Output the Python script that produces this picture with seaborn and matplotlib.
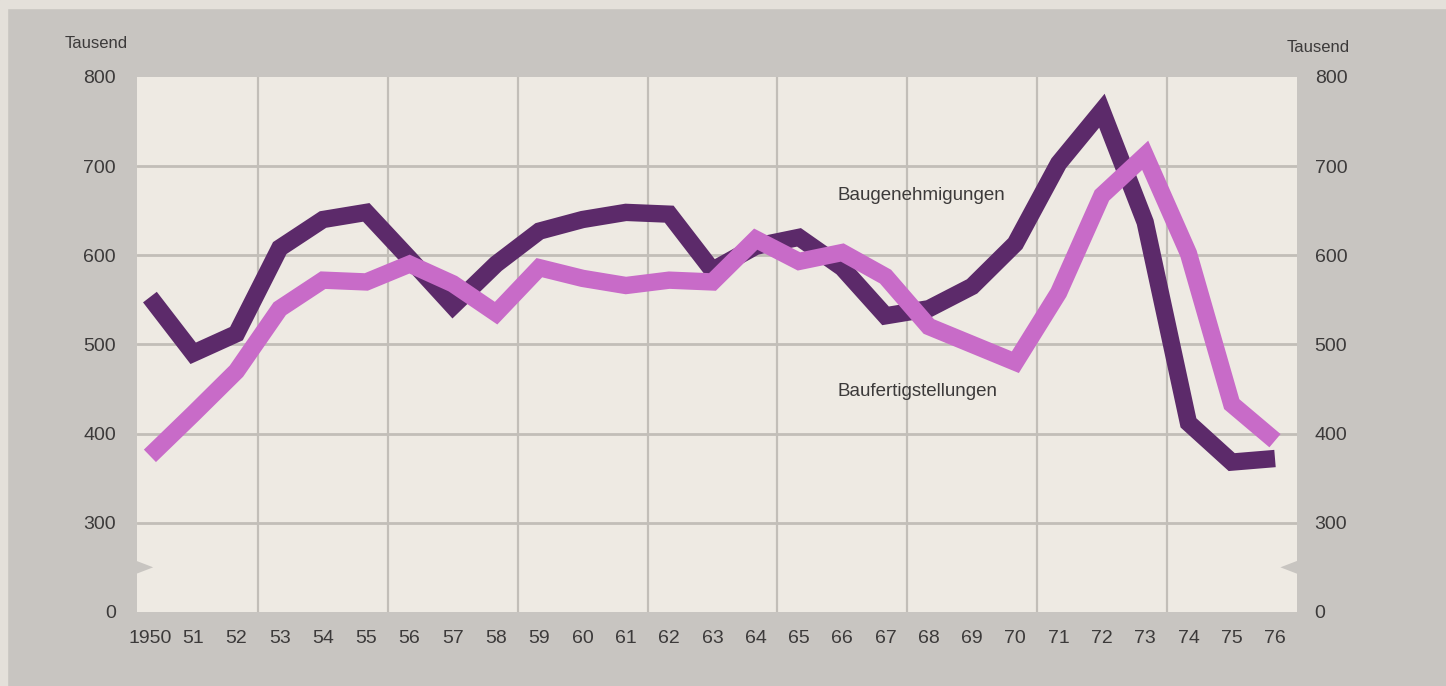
import numpy as np
import pandas as pd
import seaborn as sns
from matplotlib import pyplot as plt
from matplotlib.patches import Polygon, Rectangle
import matplotlib.transforms as mtransforms

# values in Tausend
years = list(range(1950, 1977))
genehmigungen = [553, 490, 512, 608, 640, 648, 596, 543, 590, 627, 640, 648, 646, 583,
                 610, 620, 586, 532, 540, 565, 613, 703, 762, 637, 412, 368, 372]
fertigstellungen = [375, 422, 470, 540, 572, 570, 590, 568, 535, 586, 574, 566, 572, 570,
                    618, 593, 603, 576, 520, 500, 480, 558, 667, 712, 602, 433, 392]
year_labels = ["1950"] + [str(y)[2:] for y in years[1:]]
y_ticks = [200, 300, 400, 500, 600, 700, 800]
y_tick_labels = ["0", "300", "400", "500", "600", "700", "800"]

df = pd.DataFrame({
    "Jahr": years * 2,
    "Wert": genehmigungen + fertigstellungen,
    "Reihe": ["Baugenehmigungen"] * len(years) + ["Baufertigstellungen"] * len(years),
})

sns.set_style("white")
plt.rcParams["font.family"] = ["Liberation Sans", "DejaVu Sans"]

bg = "#c8c5c1"
face = "#eeeae3"
grid = "#c2beb8"
txt = "#3c3a3a"

fig = plt.figure(figsize=(14.46, 6.86), dpi=100, facecolor=bg)
# light paper margin top and left
fig.patches.append(Rectangle((0, 0.988), 1, 0.012, transform=fig.transFigure, color="#e4e0da", zorder=0))
fig.patches.append(Rectangle((0, 0), 0.005, 1, transform=fig.transFigure, color="#e4e0da", zorder=0))

ax = fig.add_axes([0.0947, 0.108, 0.802, 0.780])
ax.set_facecolor(face)

sns.lineplot(data=df, x="Jahr", y="Wert", hue="Reihe",
             palette={"Baugenehmigungen": "#5c2a6a", "Baufertigstellungen": "#c86bc8"},
             linewidth=12.5, legend=False, ax=ax, zorder=3)
for ln in ax.lines:
    ln.set_solid_joinstyle("miter")
    ln.set_solid_capstyle("butt")

ax.set_xlim(1949.7, 1976.5)
ax.set_ylim(200, 800)

for v in [300, 400, 500, 600, 700]:
    ax.axhline(v, color=grid, lw=2, zorder=1)
for x in np.arange(1952.5, 1976, 3):
    ax.axvline(x, color=grid, lw=1.6, zorder=1)

ax.set_xticks(years)
ax.set_xticklabels(year_labels, fontsize=14, color=txt)
ax.set_yticks(y_ticks)
ax.set_yticklabels(y_tick_labels, fontsize=14, color=txt)
ax.tick_params(axis="both", length=0)
ax.tick_params(axis="x", pad=13)
ax.tick_params(axis="y", pad=15)
ax.set_xlabel("")
ax.set_ylabel("")
for s in ax.spines.values():
    s.set_visible(False)

ax2 = ax.twinx()
ax2.set_ylim(ax.get_ylim())
ax2.set_yticks(y_ticks)
ax2.set_yticklabels(y_tick_labels, fontsize=14, color=txt)
ax2.tick_params(axis="y", length=0, pad=13)
for s in ax2.spines.values():
    s.set_visible(False)

# axis break notches
for xa, sgn in [(0.0, 1), (1.0, -1)]:
    tr = mtransforms.blended_transform_factory(ax.transAxes, ax.transData)
    pts = [(xa - sgn * 0.008, 261), (xa + sgn * 0.014, 250), (xa - sgn * 0.008, 239)]
    ax.add_patch(Polygon(pts, closed=True, transform=tr, facecolor=bg,
                         edgecolor="none", clip_on=False, zorder=4))

fig.text(0.045, 0.937, "Tausend", fontsize=12, color=txt, va="center")
fig.text(0.890, 0.931, "Tausend", fontsize=12, color=txt, va="center")

ax.text(1965.9, 667, "Baugenehmigungen", fontsize=13.5, color=txt, va="center", zorder=5)
ax.text(1965.9, 447, "Baufertigstellungen", fontsize=13.5, color=txt, va="center", zorder=5)

plt.savefig("out.png", dpi=100, facecolor=bg)
